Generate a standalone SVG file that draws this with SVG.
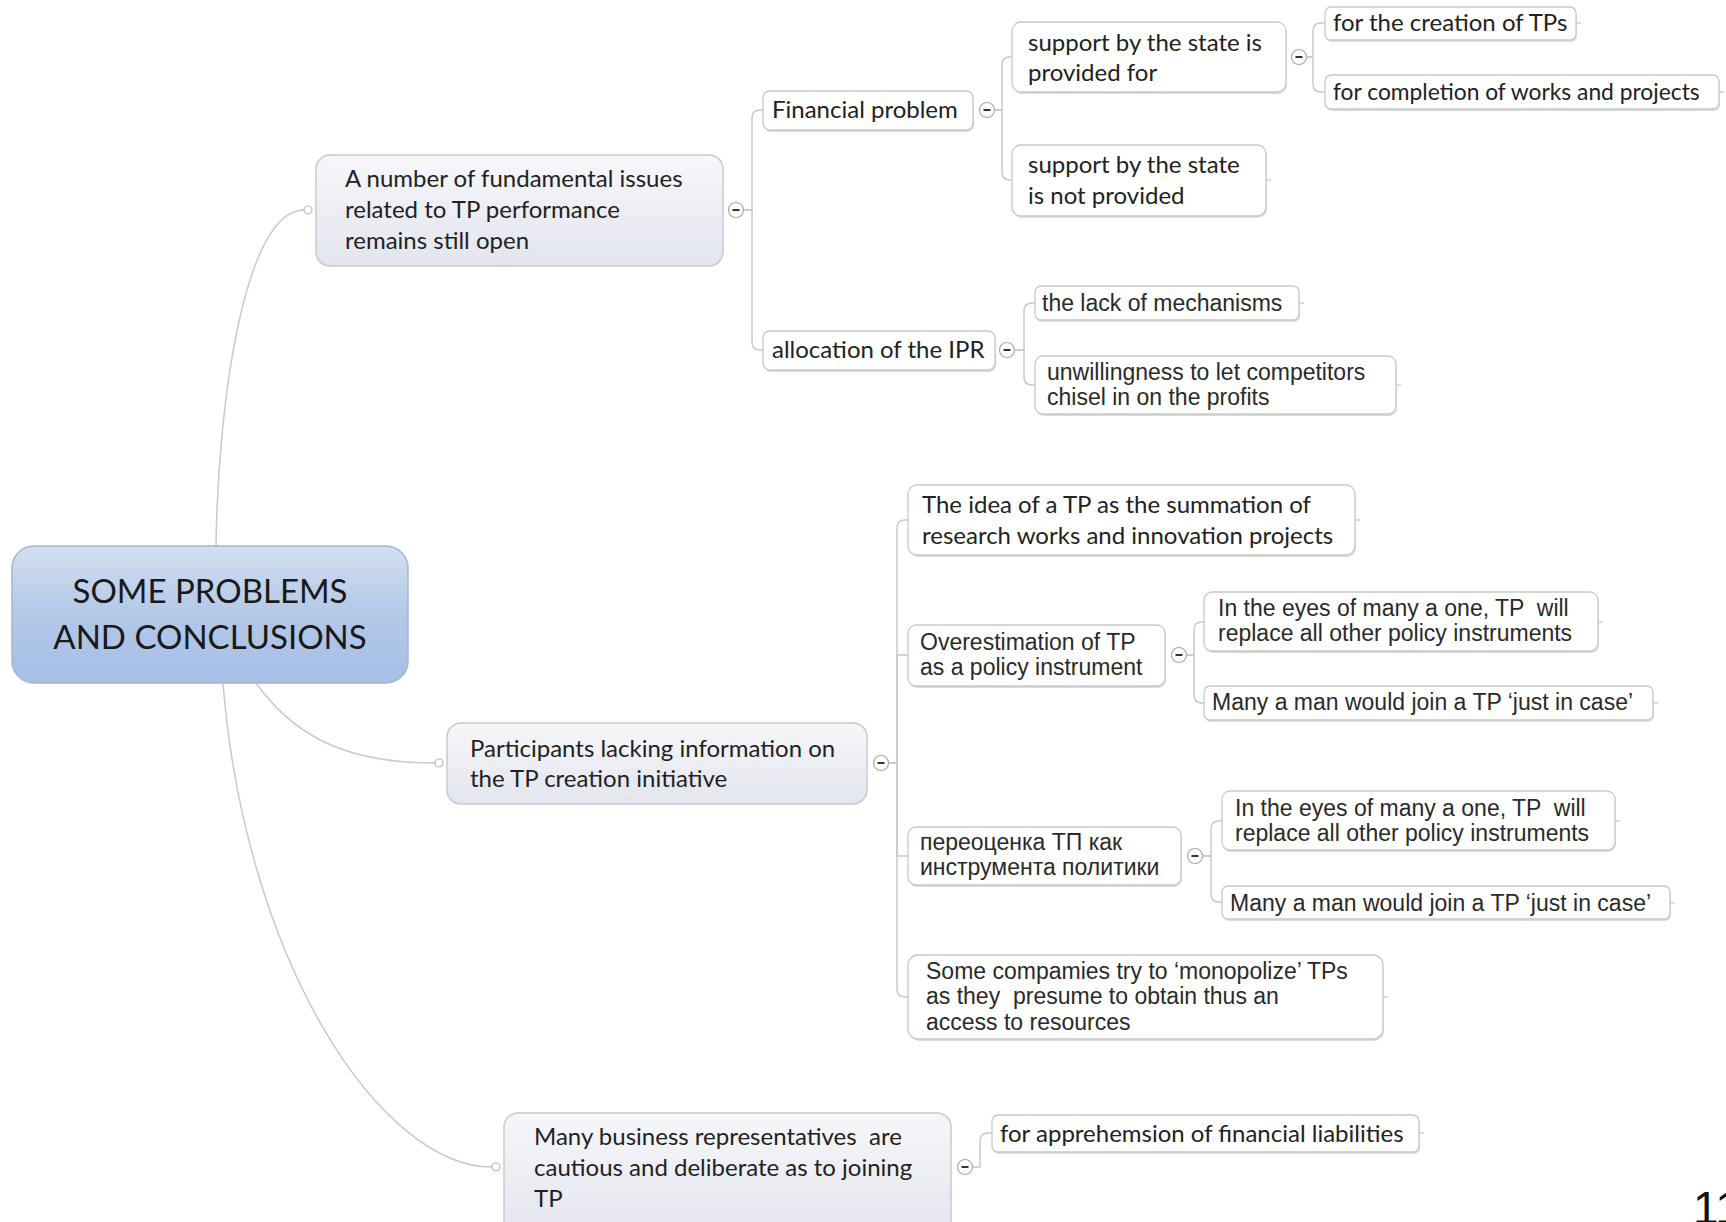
<svg xmlns="http://www.w3.org/2000/svg" width="1726" height="1222" viewBox="0 0 1726 1222">
<defs>
<linearGradient id="gRoot" x1="0" y1="0" x2="0" y2="1">
<stop offset="0" stop-color="#d3dff0"/>
<stop offset="0.5" stop-color="#b3c8e8"/>
<stop offset="1" stop-color="#a6bfe5"/>
</linearGradient>
<linearGradient id="g1" x1="0" y1="0" x2="0" y2="1">
<stop offset="0" stop-color="#f7f7fa"/>
<stop offset="1" stop-color="#e3e5ee"/>
</linearGradient>
<style>
.root{fill:url(#gRoot);stroke:#a3b6d3;stroke-width:1.5}
.n1{fill:url(#g1);stroke:#c8cad2;stroke-width:1.5}
.n2{fill:#ffffff;stroke:#c9c9c9;stroke-width:1.3}
.sh{fill:#dcdcdc}
.c{fill:none;stroke:#c9c9c9;stroke-width:1.5}
.tick{stroke:#c9c9c9;stroke-width:1.3}
.cb{fill:#ffffff;stroke:#a8a8a8;stroke-width:1.2}
.mn{stroke:#333;stroke-width:2}
.dot{fill:#ffffff;stroke:#b8b8b8;stroke-width:1.2}
.tc{font-family:Lato,"Liberation Sans",sans-serif;font-size:24px;fill:#222;white-space:pre}
.ta{font-family:"Liberation Sans",Arial,sans-serif;font-size:23px;fill:#2a2a2a;white-space:pre}
.tr{font-family:Lato,"Liberation Sans",sans-serif;font-size:33px;fill:#1a1a1a;text-anchor:middle}
</style>
</defs>

<g id="connectors">
<path class="c" d="M216,546 C218,400 245,210 304,210"/>
<path class="c" d="M256,683 C300,745 360,763 435,763"/>
<path class="c" d="M223,683 C245,960 380,1167 492,1167"/>
<path class="c" d="M744,210 H752 V118 Q752,110 760,110 H763"/>
<path class="c" d="M744,210 H752 V342 Q752,350 760,350 H763"/>
<path class="c" d="M995,110 H1002 V65 Q1002,57 1010,57 H1012"/>
<path class="c" d="M995,110 H1002 V172 Q1002,180 1010,180 H1012"/>
<path class="c" d="M1307,57 H1313 V31 Q1313,23 1321,23 H1325"/>
<path class="c" d="M1307,57 H1313 V84 Q1313,92 1321,92 H1325"/>
<path class="c" d="M1015,350 H1024 V311 Q1024,303 1032,303 H1035"/>
<path class="c" d="M1015,350 H1024 V377 Q1024,385 1032,385 H1035"/>
<path class="c" d="M889,763 H897 V528 Q897,520 905,520 H908"/>
<path class="c" d="M889,763 H897 V655 H908"/>
<path class="c" d="M889,763 H897 V856 H908"/>
<path class="c" d="M889,763 H897 V989 Q897,997 905,997 H908"/>
<path class="c" d="M1187,655 H1194 V630 Q1194,622 1202,622 H1204"/>
<path class="c" d="M1187,655 H1194 V695 Q1194,703 1202,703 H1204"/>
<path class="c" d="M1203,856 H1211 V829 Q1211,821 1219,821 H1222"/>
<path class="c" d="M1203,856 H1211 V894 Q1211,902 1219,902 H1222"/>
<path class="c" d="M973,1167 H980 V1141 Q980,1133 988,1133 H992"/>
</g>

<g id="root">
<rect class="root" x="12" y="546" width="396" height="137" rx="22"/>
<text class="tr" x="210" y="603">SOME PROBLEMS</text>
<text class="tr" x="210" y="649">AND CONCLUSIONS</text>
</g>

<g id="nodeA">
<rect class="n1" x="316" y="155" width="407" height="111" rx="14"/>
<text class="tc" x="345" y="187">A number of fundamental issues</text>
<text class="tc" x="345" y="218">related to TP performance</text>
<text class="tc" x="345" y="249">remains still open</text>
<circle class="dot" cx="308" cy="210" r="4"/>
<circle class="cb" cx="736" cy="210" r="7.5"/><line class="mn" x1="732.5" y1="210" x2="739.5" y2="210"/>
</g>

<g id="nodeFP">
<rect class="sh" x="764" y="93" width="210" height="39" rx="7"/>
<rect class="n2" x="763" y="91" width="210" height="39" rx="7"/>
<text class="tc" x="772" y="118">Financial problem</text>
<circle class="cb" cx="987" cy="110" r="7.5"/><line class="mn" x1="983.5" y1="110" x2="990.5" y2="110"/>
</g>

<g id="nodeS1">
<rect class="sh" x="1013" y="24" width="274" height="70" rx="9"/>
<rect class="n2" x="1012" y="22" width="274" height="70" rx="9"/>
<text class="tc" x="1028" y="51">support by the state is</text>
<text class="tc" x="1028" y="81">provided for</text>
<circle class="cb" cx="1299" cy="57" r="7.5"/><line class="mn" x1="1295.5" y1="57" x2="1302.5" y2="57"/>
</g>

<g id="nodeT1">
<rect class="sh" x="1326" y="9" width="251" height="33" rx="6"/>
<rect class="n2" x="1325" y="7" width="251" height="33" rx="6"/>
<text class="tc" x="1333" y="31">for the creation of TPs</text>
<line class="tick" x1="1576" y1="23" x2="1581" y2="23"/>
</g>

<g id="nodeT2">
<rect class="sh" x="1326" y="77" width="394" height="34" rx="6"/>
<rect class="n2" x="1325" y="75" width="394" height="34" rx="6"/>
<text class="tc" x="1333" y="100" style="font-size:22.8px">for completion of works and projects</text>
<line class="tick" x1="1719" y1="92" x2="1724" y2="92"/>
</g>

<g id="nodeS2">
<rect class="sh" x="1013" y="147" width="254" height="71" rx="9"/>
<rect class="n2" x="1012" y="145" width="254" height="71" rx="9"/>
<text class="tc" x="1028" y="173">support by the state</text>
<text class="tc" x="1028" y="204">is not provided</text>
<line class="tick" x1="1266" y1="180" x2="1271" y2="180"/>
</g>

<g id="nodeIPR">
<rect class="sh" x="764" y="333" width="232" height="39" rx="7"/>
<rect class="n2" x="763" y="331" width="232" height="39" rx="7"/>
<text class="tc" x="772" y="358">allocation of the IPR</text>
<circle class="cb" cx="1007" cy="350" r="7.5"/><line class="mn" x1="1003.5" y1="350" x2="1010.5" y2="350"/>
</g>

<g id="nodeL1">
<rect class="sh" x="1036" y="288" width="264" height="34" rx="6"/>
<rect class="n2" x="1035" y="286" width="264" height="34" rx="6"/>
<text class="ta" x="1042" y="311">the lack of mechanisms</text>
<line class="tick" x1="1299" y1="303" x2="1304" y2="303"/>
</g>

<g id="nodeL2">
<rect class="sh" x="1036" y="358" width="361" height="58" rx="8"/>
<rect class="n2" x="1035" y="356" width="361" height="58" rx="8"/>
<text class="ta" x="1047" y="380">unwillingness to let competitors</text>
<text class="ta" x="1047" y="405">chisel in on the profits</text>
<line class="tick" x1="1396" y1="385" x2="1401" y2="385"/>
</g>

<g id="nodeB">
<rect class="n1" x="447" y="723" width="420" height="81" rx="14"/>
<text class="tc" x="470" y="757">Participants lacking information on</text>
<text class="tc" x="470" y="787">the TP creation initiative</text>
<circle class="dot" cx="439" cy="763" r="4"/>
<circle class="cb" cx="881" cy="763" r="7.5"/><line class="mn" x1="877.5" y1="763" x2="884.5" y2="763"/>
</g>

<g id="nodeIdea">
<rect class="sh" x="909" y="487" width="447" height="70" rx="9"/>
<rect class="n2" x="908" y="485" width="447" height="70" rx="9"/>
<text class="tc" x="922" y="513">The idea of a TP as the summation of</text>
<text class="tc" x="922" y="544">research works and innovation projects</text>
<line class="tick" x1="1355" y1="520" x2="1360" y2="520"/>
</g>

<g id="nodeOver">
<rect class="sh" x="909" y="627" width="257" height="61" rx="8"/>
<rect class="n2" x="908" y="625" width="257" height="61" rx="8"/>
<text class="ta" x="920" y="650">Overestimation of TP</text>
<text class="ta" x="920" y="675">as a policy instrument</text>
<circle class="cb" cx="1179" cy="655" r="7.5"/><line class="mn" x1="1175.5" y1="655" x2="1182.5" y2="655"/>
</g>

<g id="nodeIn1">
<rect class="sh" x="1205" y="594" width="394" height="59" rx="8"/>
<rect class="n2" x="1204" y="592" width="394" height="59" rx="8"/>
<text class="ta" x="1218" y="616" xml:space="preserve">In the eyes of many a one, TP  will</text>
<text class="ta" x="1218" y="641">replace all other policy instruments</text>
<line class="tick" x1="1598" y1="622" x2="1603" y2="622"/>
</g>

<g id="nodeMany1">
<rect class="sh" x="1205" y="688" width="449" height="34" rx="6"/>
<rect class="n2" x="1204" y="686" width="449" height="34" rx="6"/>
<text class="ta" x="1212" y="710">Many a man would join a TP ‘just in case’</text>
<line class="tick" x1="1653" y1="703" x2="1658" y2="703"/>
</g>

<g id="nodePere">
<rect class="sh" x="909" y="829" width="273" height="58" rx="8"/>
<rect class="n2" x="908" y="827" width="273" height="58" rx="8"/>
<text class="ta" x="920" y="850">переоценка ТП как</text>
<text class="ta" x="920" y="875">инструмента политики</text>
<circle class="cb" cx="1195" cy="856" r="7.5"/><line class="mn" x1="1191.5" y1="856" x2="1198.5" y2="856"/>
</g>

<g id="nodeIn2">
<rect class="sh" x="1223" y="793" width="393" height="59" rx="8"/>
<rect class="n2" x="1222" y="791" width="393" height="59" rx="8"/>
<text class="ta" x="1235" y="816" xml:space="preserve">In the eyes of many a one, TP  will</text>
<text class="ta" x="1235" y="841">replace all other policy instruments</text>
<line class="tick" x1="1615" y1="821" x2="1620" y2="821"/>
</g>

<g id="nodeMany2">
<rect class="sh" x="1223" y="888" width="448" height="33" rx="6"/>
<rect class="n2" x="1222" y="886" width="448" height="33" rx="6"/>
<text class="ta" x="1230" y="911">Many a man would join a TP ‘just in case’</text>
<line class="tick" x1="1670" y1="903" x2="1675" y2="903"/>
</g>

<g id="nodeSome">
<rect class="sh" x="909" y="957" width="475" height="84" rx="10"/>
<rect class="n2" x="908" y="955" width="475" height="84" rx="10"/>
<text class="ta" x="926" y="979">Some compamies try to ‘monopolize’ TPs</text>
<text class="ta" x="926" y="1004" xml:space="preserve">as they  presume to obtain thus an</text>
<text class="ta" x="926" y="1030">access to resources</text>
<line class="tick" x1="1383" y1="997" x2="1388" y2="997"/>
</g>

<g id="nodeC">
<rect class="n1" x="504" y="1113" width="447" height="125" rx="14"/>
<text class="tc" x="534" y="1145" xml:space="preserve">Many business representatives  are</text>
<text class="tc" x="534" y="1176">cautious and deliberate as to joining</text>
<text class="tc" x="534" y="1207">TP</text>
<circle class="dot" cx="496" cy="1167" r="4"/>
<circle class="cb" cx="965" cy="1167" r="7.5"/><line class="mn" x1="961.5" y1="1167" x2="968.5" y2="1167"/>
</g>

<g id="nodeApp">
<rect class="sh" x="993" y="1117" width="427" height="37" rx="6"/>
<rect class="n2" x="992" y="1115" width="427" height="37" rx="6"/>
<text class="tc" x="1000" y="1142">for apprehemsion of financial liabilities</text>
<line class="tick" x1="1419" y1="1133" x2="1424" y2="1133"/>
</g>

<text x="1693" y="1224" font-family="Liberation Sans, Arial, sans-serif" font-size="46" fill="#111">11</text>
</svg>
